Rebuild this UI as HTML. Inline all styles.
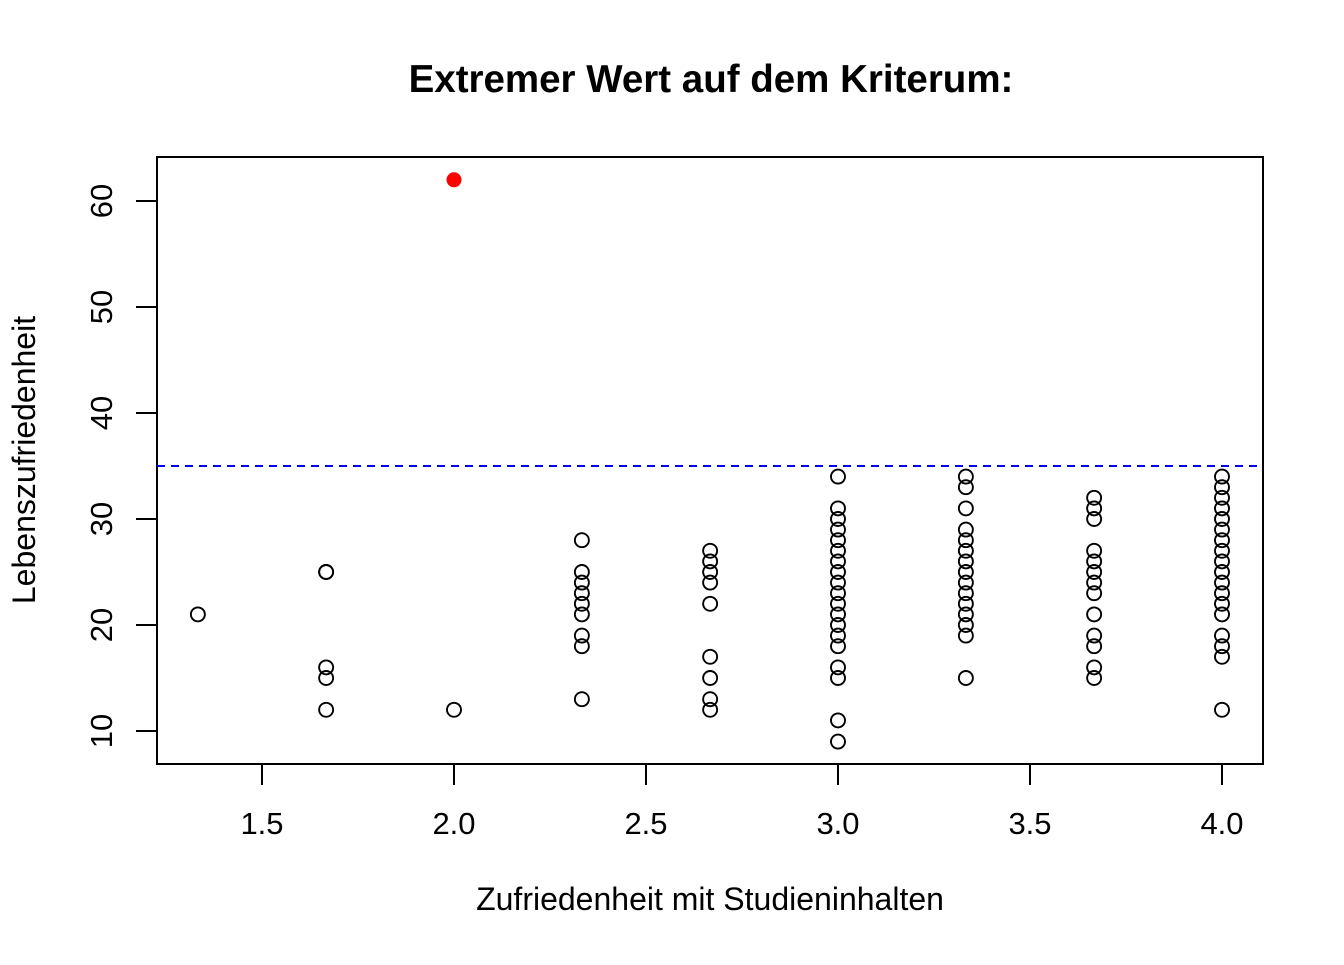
<!DOCTYPE html>
<html><head><meta charset="utf-8"><style>
html,body{margin:0;padding:0;background:#fff;}
svg text{font-family:"Liberation Sans",sans-serif;fill:#000;}
</style></head><body>
<svg id="chart" width="1344" height="960" xmlns="http://www.w3.org/2000/svg">
<text x="711" y="92" font-size="38.5" font-weight="bold" text-anchor="middle">Extremer Wert auf dem Kriterum:</text>
<rect x="157" y="157" width="1106" height="607" fill="none" stroke="#000" stroke-width="2"/>
<text x="710" y="910" font-size="32" text-anchor="middle">Zufriedenheit mit Studieninhalten</text>
<text transform="translate(35,460) rotate(-90)" font-size="32" text-anchor="middle">Lebenszufriedenheit</text>
<g id="ax"></g><g id="marks"></g>
</svg>
<script>
const xTicks=[1.5,2.0,2.5,3.0,3.5,4.0];
const xTickLabels=["1.5","2.0","2.5","3.0","3.5","4.0"];
const yTicks=[10,20,30,40,50,60];
const xVals=[1.333,1.667,1.667,1.667,1.667,1.667,2,
2.333,2.333,2.333,2.333,2.333,2.333,2.333,2.333,2.333,
2.667,2.667,2.667,2.667,2.667,2.667,2.667,2.667,2.667,
3,3,3,3,3,3,3,3,3,3,3,3,3,3,3,3,3,3,3,
3.333,3.333,3.333,3.333,3.333,3.333,3.333,3.333,3.333,3.333,3.333,3.333,3.333,3.333,3.333,
3.667,3.667,3.667,3.667,3.667,3.667,3.667,3.667,3.667,3.667,3.667,3.667,3.667,
4,4,4,4,4,4,4,4,4,4,4,4,4,4,4,4,4,4];
const yVals=[21,25,25,16,15,12,12,
28,25,24,23,22,21,19,18,13,
27,26,25,24,22,17,15,13,12,
34,31,30,29,28,27,26,25,24,23,22,21,20,19,18,16,15,11,9,
34,33,31,29,28,27,26,25,24,23,22,21,20,19,15,
32,31,30,27,26,25,24,23,21,19,18,16,15,
34,33,32,31,30,29,28,27,26,25,24,23,22,21,19,18,17,12];
const outlierX=[2.0];
const outlierY=[62];
const refLine=[35];
const NS="http://www.w3.org/2000/svg";
const xs=v=>454+(v-2)*384;
const ys=v=>731-(v-10)*10.6;
const ax=document.getElementById('ax'),mk=document.getElementById('marks');
function el(t,a,p){const e=document.createElementNS(NS,t);for(const k in a)e.setAttribute(k,a[k]);p.appendChild(e);return e;}
xTicks.forEach((t,i)=>{
 const l=el('line',{x1:xs(t),x2:xs(t),y1:764,y2:785,stroke:'#000','stroke-width':2},ax);
 
 
 const tx=el('text',{x:xs(t),y:834,'font-size':31,'text-anchor':'middle'},ax);tx.textContent=xTickLabels[i];
 
 
});
yTicks.forEach(t=>{
 const l=el('line',{x1:136,x2:157,y1:ys(t),y2:ys(t),stroke:'#000','stroke-width':2},ax);
 
 
 const tx=el('text',{transform:`translate(112,${ys(t)}) rotate(-90)`,'font-size':31,'text-anchor':'middle'},ax);tx.textContent=t;
 
 
});
const rl=el('line',{x1:157,x2:1263,y1:ys(refLine[0]),y2:ys(refLine[0]),stroke:'#0000ee','stroke-width':2,'stroke-dasharray':'8,6'},mk);


xVals.forEach((x,i)=>{
 const c=el('circle',{cx:xs(x),cy:ys(yVals[i]),r:7,fill:'none',stroke:'#000','stroke-width':1.9},mk);
 
 
});
outlierX.forEach((x,i)=>{
 const c=el('circle',{cx:xs(x),cy:ys(outlierY[i]),r:7,fill:'#ff0000',stroke:'#ff0000','stroke-width':1},mk);
 
 
});
</script>
</body></html>
